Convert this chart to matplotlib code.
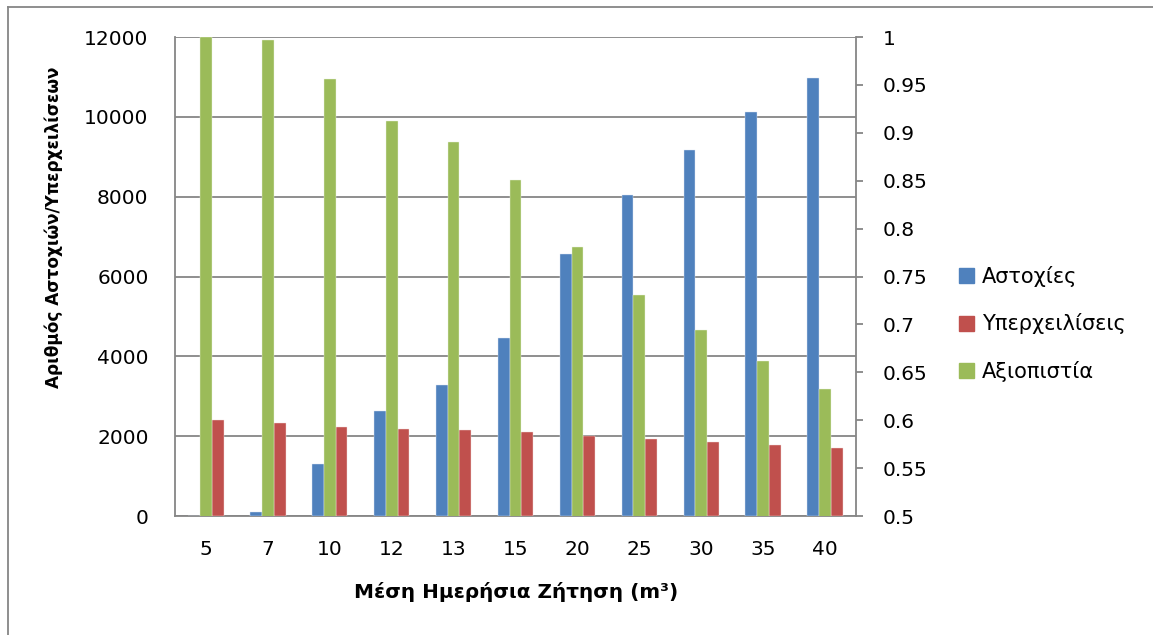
import numpy as np
import matplotlib.pyplot as plt
from matplotlib.lines import Line2D
from matplotlib.patches import Patch

plt.rcParams['font.family'] = ['DejaVu Sans']

demand = ['5', '7', '10', '12', '13', '15', '20', '25', '30', '35', '40']
failures = [0, 100, 1310, 2640, 3270, 4450, 6555, 8030, 9160, 10120, 10980]
overflows = [2400, 2320, 2230, 2190, 2155, 2115, 2015, 1930, 1845, 1780, 1710]
reliability = [1.0, 0.9965, 0.956, 0.912, 0.890, 0.851, 0.781, 0.731, 0.694, 0.662, 0.633]

c_blue = '#4F81BD'
c_red = '#C0504D'
c_green = '#9BBB59'
grid_c = '#868686'

W, H = 1153, 635
fig = plt.figure(figsize=(W / 100, H / 100), dpi=100)
ax = fig.add_axes([175 / W, 1 - 516 / H, (856 - 175) / W, (516 - 37) / H])
ax2 = ax.twinx()

x = np.arange(len(demand))
w = 0.19
ax.bar(x - w, failures, w, color=c_blue, edgecolor='#dce6f2', linewidth=0.3, zorder=3)
ax.bar(x + w, overflows, w, color=c_red, edgecolor='#f2dcdb', linewidth=0.3, zorder=3)
ax2.bar(x, reliability, w, color=c_green, edgecolor='#ebf1de', linewidth=0.3, zorder=3)

ax.set_xlim(-0.5, len(demand) - 0.5)
ax.set_ylim(0, 12000)
ax.set_yticks(range(0, 12001, 2000))
ax2.set_ylim(0.5, 1.0)
ax2.set_yticks(np.arange(0.5, 1.0001, 0.05))
ax2.set_yticklabels(['0.5', '0.55', '0.6', '0.65', '0.7', '0.75', '0.8', '0.85', '0.9', '0.95', '1'])
ax.set_xticks(x)
ax.set_xticklabels(demand)

ax.grid(axis='y', color=grid_c, linewidth=1.3, zorder=0)
ax.set_axisbelow(True)

for a in (ax, ax2):
    for s in a.spines.values():
        s.set_visible(False)
ax.spines['left'].set_visible(True)
ax.spines['bottom'].set_visible(True)
ax2.spines['right'].set_visible(True)
for s in (ax.spines['left'], ax.spines['bottom'], ax2.spines['right']):
    s.set_color(grid_c)
    s.set_linewidth(1.3)

ax.tick_params(axis='x', length=0, labelsize=14.5, pad=17)
ax.tick_params(axis='y', length=0, labelsize=14.5, pad=19)
ax2.tick_params(axis='y', length=5, width=1.3, color=grid_c, labelsize=14.5, pad=14)

fig.text(516 / W, 1 - 592 / H, 'Μέση Ημερήσια Ζήτηση (m³)',
         ha='center', va='center', fontsize=14.4, fontweight='bold')
fig.text(54 / W, 1 - 227 / H, 'Αριθμός Αστοχιών/Υπερχειλίσεων', rotation=90,
         ha='center', va='center', fontsize=12.2, fontweight='bold')

handles = [Patch(color=c_blue), Patch(color=c_red), Patch(color=c_green)]
labels = ['Αστοχίες', 'Υπερχειλίσεις', 'Αξιοπιστία']
fig.legend(handles, labels, loc='center left', bbox_to_anchor=(951 / W, 1 - 324 / H),
           frameon=False, fontsize=15, handlelength=0.72, handleheight=0.72,
           handletextpad=0.35, labelspacing=1.28, borderaxespad=0)

# outer chart border (only top and left visible in the crop)
fig.add_artist(Line2D([8 / W, 1.0], [1 - 7 / H, 1 - 7 / H], color=grid_c, linewidth=1.3))
fig.add_artist(Line2D([8 / W, 8 / W], [0.0, 1 - 7 / H], color=grid_c, linewidth=1.3))

fig.savefig('out.png', dpi=100)
